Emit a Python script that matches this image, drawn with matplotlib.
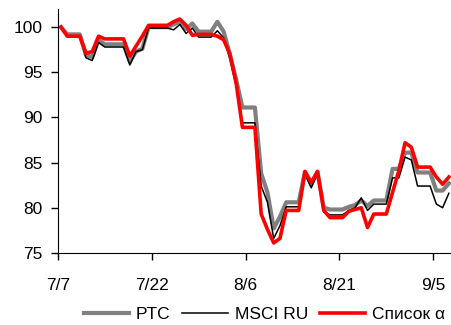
import matplotlib
matplotlib.use('Agg')
import matplotlib.pyplot as plt
import numpy as np

plt.rcParams['font.family'] = ['Liberation Sans', 'DejaVu Sans']

# daily index values, 7/7 .. 9/7
rts = [100.0, 99.2, 99.2, 99.2, 96.9, 96.7, 98.6, 98.1, 98.1, 98.1,
       98.1, 96.2, 97.3, 97.6, 100.0, 100.0, 100.0, 100.0, 100.3, 100.6,
       99.8, 100.4, 99.5, 99.5, 99.5, 100.6, 99.5, 97.0, 94.2, 91.1,
       91.1, 91.1, 83.8, 81.7, 77.7, 79.0, 80.6, 80.6, 80.6, 84.0,
       82.6, 84.0, 80.0, 79.8, 79.8, 79.8, 80.1, 80.3, 80.8, 80.2,
       80.8, 80.8, 80.8, 84.3, 84.3, 86.1, 86.1, 83.9, 83.9, 83.9,
       81.9, 81.9, 82.7]
msci = [100.0, 99.0, 99.0, 99.0, 96.6, 96.3, 98.3, 97.8, 97.8, 97.8,
        97.8, 95.8, 97.3, 97.5, 99.9, 99.9, 99.9, 99.9, 99.7, 100.3,
        99.3, 99.9, 98.9, 98.9, 98.9, 99.6, 98.8, 96.5, 93.5, 89.4,
        89.4, 89.4, 82.4, 80.6, 76.6, 78.0, 80.1, 80.1, 80.1, 83.7,
        82.2, 83.8, 79.5, 79.2, 79.2, 79.2, 79.7, 80.0, 81.1, 79.7,
        80.4, 80.4, 80.4, 83.3, 83.3, 85.6, 85.3, 82.4, 82.4, 82.4,
        80.4, 80.0, 81.6]
alpha_list = [100.0, 99.0, 99.0, 99.0, 97.1, 97.3, 99.0, 98.7, 98.7, 98.7,
              98.7, 96.8, 97.9, 99.0, 100.2, 100.2, 100.2, 100.2, 100.6, 100.9,
              100.2, 99.1, 99.2, 99.2, 99.2, 99.0, 98.6, 97.0, 93.8, 88.9,
              88.9, 88.9, 79.3, 77.6, 76.1, 76.6, 79.7, 79.7, 79.7, 84.0,
              82.8, 84.0, 79.7, 78.9, 78.9, 78.9, 79.6, 79.8, 80.0, 77.8,
              79.3, 79.3, 79.3, 81.7, 84.1, 87.2, 86.7, 84.5, 84.5, 84.5,
              83.4, 82.6, 83.4]
tick_pos = [0, 15, 30, 45, 60]
tick_labels = ['7/7', '7/22', '8/6', '8/21', '9/5']

x = np.arange(len(rts)) + 0.5

fig = plt.figure(figsize=(4.52, 3.25), dpi=100)
ax = fig.add_axes([0.128, 0.222, 0.872, 0.75])

ax.plot(x, rts, color='#808080', lw=3.0, label='PTC')
ax.plot(x, msci, color='black', lw=1.1, label='MSCI RU')
ax.plot(x, alpha_list, color='#ff0000', lw=2.6, label='Список α')

ax.set_xlim(0, 63)
ax.set_ylim(75, 102)
ax.set_yticks([75, 80, 85, 90, 95, 100])
ax.set_xticks(tick_pos)
ax.set_xticklabels(tick_labels)
ax.tick_params(labelsize=12.5, direction='out', length=5, width=1)
ax.tick_params(axis='y', pad=6)
ax.tick_params(axis='x', pad=13)
ax.spines['top'].set_visible(False)
ax.spines['right'].set_visible(False)

fig.legend(loc='center', bbox_to_anchor=(0.585, 0.033), ncol=3, frameon=False,
           fontsize=12.5, handlelength=2.6, handletextpad=0.4, columnspacing=0.7)

fig.savefig('out.png', dpi=100)
